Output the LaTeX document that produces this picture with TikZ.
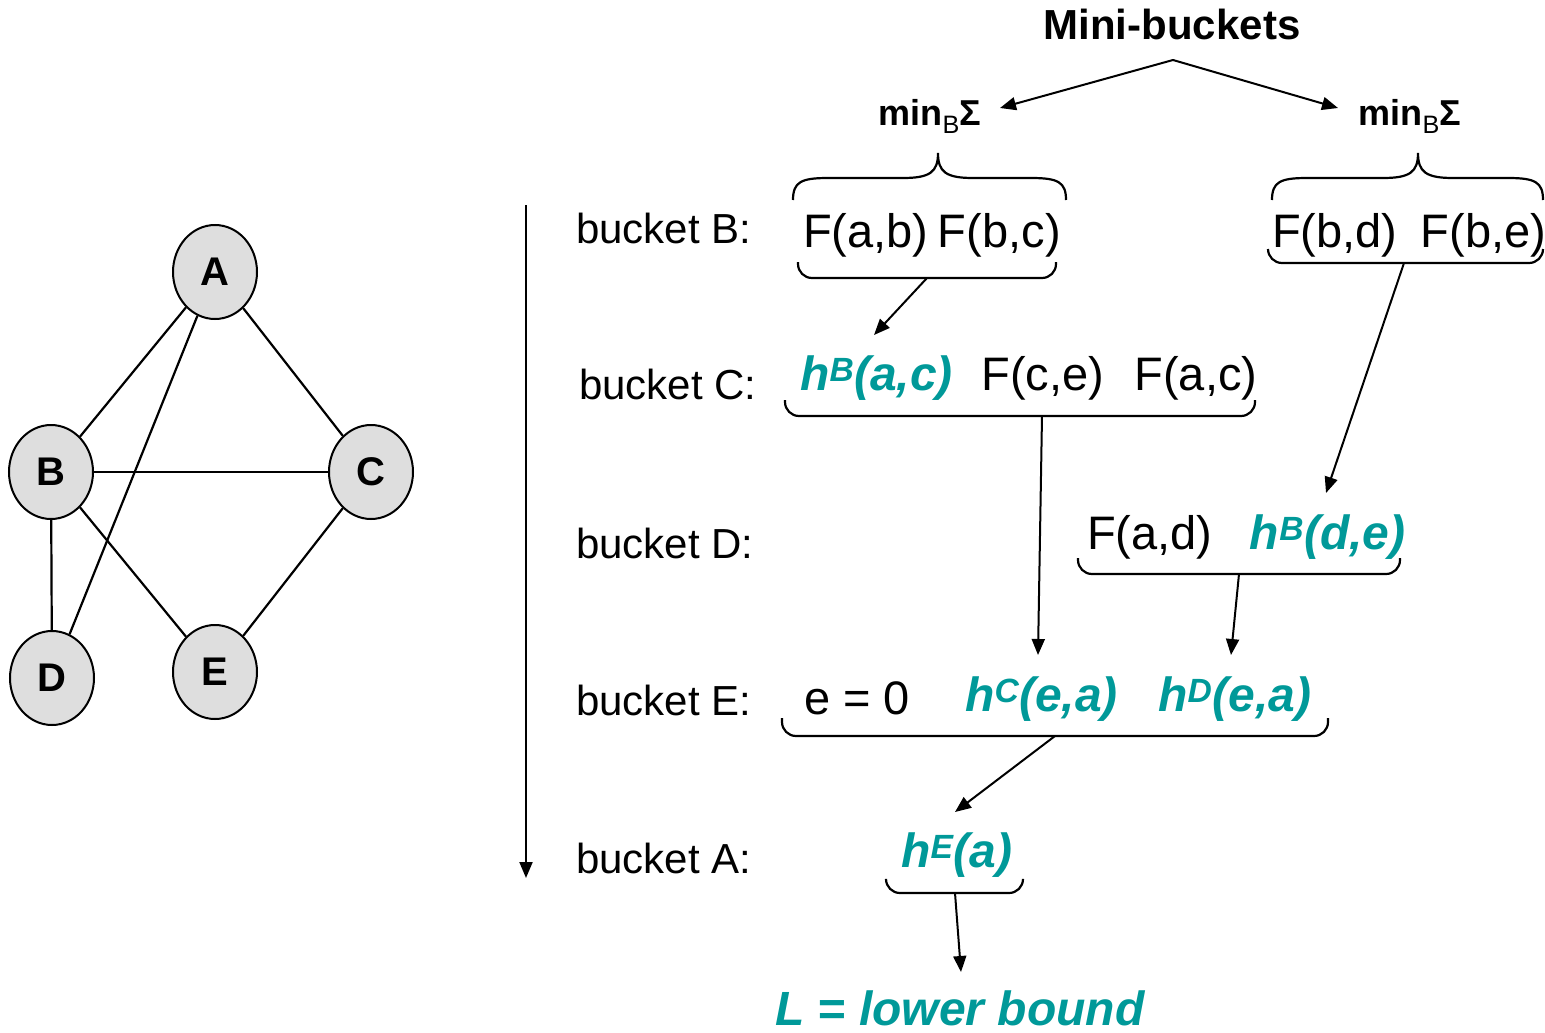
\documentclass[tikz,border=0pt]{standalone}
\usepackage{fontspec}
\setmainfont{Liberation Sans}
\usetikzlibrary{arrows.meta,positioning,shapes.geometric}
\definecolor{hteal}{RGB}{0,153,153}

\begin{document}
\begin{tikzpicture}[
    x=1pt,y=-1pt,
    vertex/.style={ellipse,draw,line width=2pt,fill=black!13,minimum width=84pt,minimum height=94pt,inner sep=0pt,font=\fontsize{40}{40}\selectfont\bfseries},
    lbl/.style={anchor=west,inner sep=0pt,font=\fontsize{42}{42}\selectfont},
    fn/.style={anchor=west,inner sep=0pt,font=\fontsize{47}{47}\selectfont},
    hfn/.style={fn,text=hteal,font=\fontsize{48}{48}\selectfont\bfseries\itshape},
    head/.style={anchor=base,inner sep=0pt,font=\fontsize{36}{36}\selectfont\bfseries},
    brace/.style={line width=2.2pt,rounded corners=14pt},
    flow/.style={line width=2pt,-{Triangle[length=16pt,width=13pt]}}]
  \useasboundingbox (0,0) rectangle (1545,1033);

  % interaction graph
  \node[vertex] (A) at (215,272) {A};
  \node[vertex] (B) at (51,472) {B};
  \node[vertex] (C) at (371,472) {C};
  \node[vertex] (D) at (52,678) {D};
  \node[vertex] (E) at (215,672) {E};
  \foreach \u/\v in {A/B,A/C,A/D,B/C,B/D,B/E,C/E}
    \draw[line width=2.2pt] (\u) -- (\v);

  % ordering
  \coordinate (otop) at (526,205);
  \coordinate (obot) at (526,878);
  \draw[flow] (otop) -- (obot);
  \node[lbl] (lB) at (576,228) {bucket B:};
  \node[lbl] (lC) at (579,384) {bucket C:};
  \node[lbl] (lD) at (576,543) {bucket D:};
  \node[lbl] (lE) at (576,700) {bucket E:};
  \node[lbl] (lA) at (576,858) {bucket A:};

  % mini-bucket split
  \node[head,font=\fontsize{42}{42}\selectfont\bfseries] (mini) at (1172,40) {Mini-buckets};
  \node[head] (min1) at (930,125) {min\textsubscript{\mdseries B}Σ};
  \node[head] (min2) at (1410,125) {min\textsubscript{\mdseries B}Σ};
  \coordinate (split) at (1173,60);
  \coordinate (m1) at (1000,108);
  \coordinate (m2) at (1338,108);
  \draw[flow] (split) -- (m1);
  \draw[flow] (split) -- (m2);
  \foreach \xa/\xm/\xb in {793/938/1066,1272/1418/1543}
    \draw[line width=2.2pt] (\xa,200) .. controls (\xa,182) and (\xa+8,178) .. (\xa+35,178)
      -- (\xm-35,178) .. controls (\xm-8,178) and (\xm,172) .. (\xm,153)
      .. controls (\xm,172) and (\xm+8,178) .. (\xm+35,178)
      -- (\xb-35,178) .. controls (\xb-8,178) and (\xb,182) .. (\xb,200);

  % buckets
  \node[fn] (fab) at (803,235) {F(a,b)};
  \node[fn,right=9pt of fab] (fbc) {F(b,c)};
  \node[fn] (fbd) at (1272,235) {F(b,d)};
  \node[fn,right=23pt of fbd] (fbe) {F(b,e)};
  \node[hfn] (hBac) at (800,378) {h\textsuperscript{B}(a,c)};
  \node[fn,right=28pt of hBac] (fce) {F(c,e)};
  \node[fn,right=30pt of fce] (fac) {F(a,c)};
  \node[fn] (fad) at (1087,537) {F(a,d)};
  \node[hfn,right=37pt of fad] (hBde) {h\textsuperscript{B}(d,e)};
  \node[fn] (e0) at (804,698) {e = 0};
  \node[hfn] (hCea) at (965,699) {h\textsuperscript{C}(e,a)};
  \node[hfn,right=40pt of hCea] (hDea) {h\textsuperscript{D}(e,a)};
  \node[hfn] (hEa) at (901,855) {h\textsuperscript{E}(a)};
  \node[hfn] (bound) at (775,1008) {L = lower bound};

  \foreach \xa/\xb/\ya/\yb in {798/1056/262/278,1268/1543/249/263,785/1255/400/416,
      1078/1400/558/574,782/1328/718/736,886/1023/880/893}
    \draw[brace] (\xa,\ya) -- (\xa,\yb) -- (\xb,\yb) -- (\xb,\ya);

  % messages
  \coordinate (s1) at (927,278);  \coordinate (t1) at (874,335);
  \coordinate (s2) at (1404,263); \coordinate (t2) at (1326,493);
  \coordinate (s3) at (1042,416); \coordinate (t3) at (1038,655);
  \coordinate (s4) at (1239,574); \coordinate (t4) at (1231,655);
  \coordinate (s5) at (1055,736); \coordinate (t5) at (955,812);
  \coordinate (s6) at (955,893);  \coordinate (t6) at (961,972);
  \foreach \i in {1,...,6}
    \draw[flow] (s\i) -- (t\i);
\end{tikzpicture}
\end{document}
